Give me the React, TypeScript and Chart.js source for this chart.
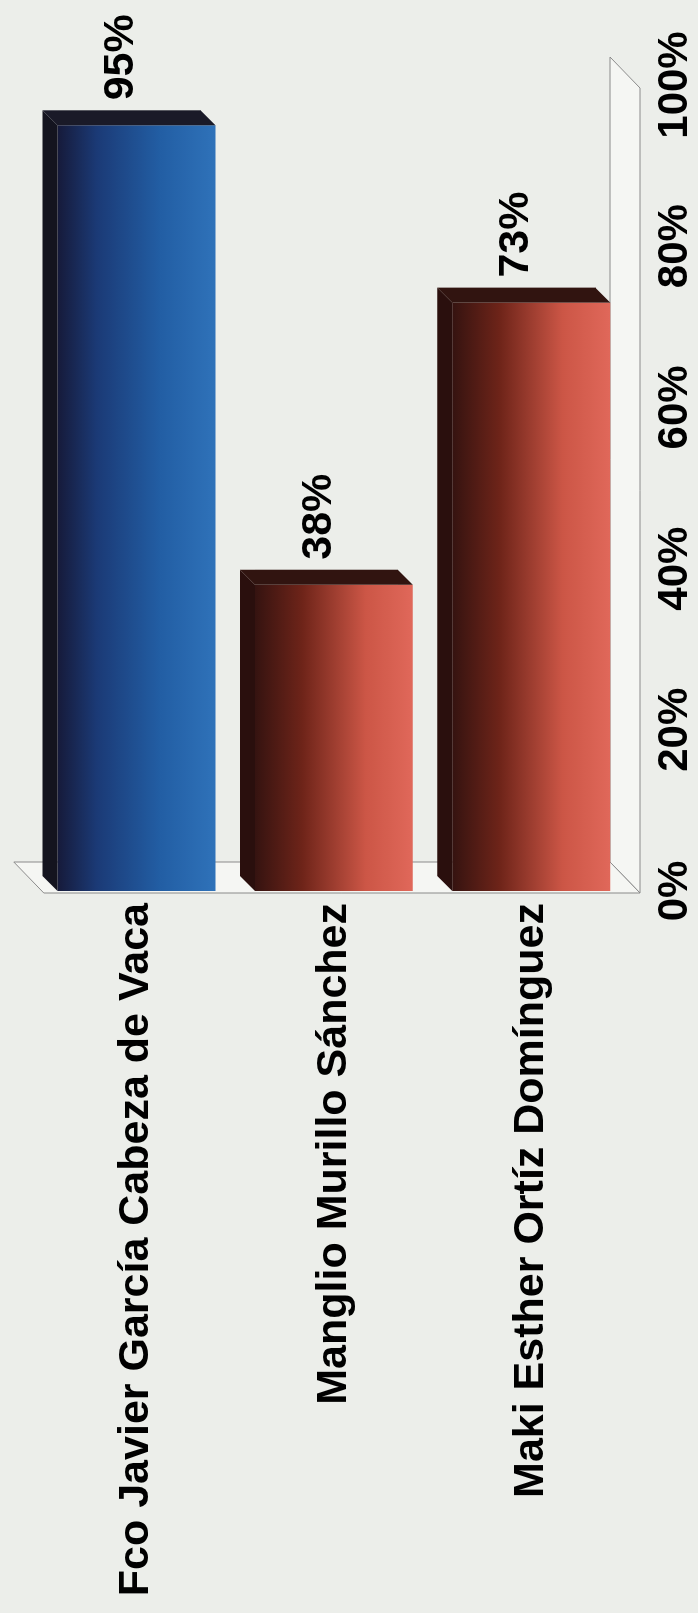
import { useEffect, useRef } from "react";
import { Chart, registerables } from "chart.js";

Chart.register(...registerables);

const categories = [
  "Fco Javier García Cabeza de Vaca",
  "Manglio Murillo Sánchez",
  "Maki Esther Ortíz Domínguez",
];
const values = [95, 38, 73];
const valueLabels = ["95%", "38%", "73%"];
const tickValues = [0, 20, 40, 60, 80, 100];

// styles (kept apart from data)
const BLUE_STOPS: [number, string][] = [
  [0, "#161a3a"],
  [0.25, "#1b3a76"],
  [0.65, "#225ea4"],
  [1, "#2f72b9"],
];
const RED_STOPS: [number, string][] = [
  [0, "#351310"],
  [0.3, "#6e2419"],
  [0.7, "#cc5646"],
  [1, "#e0685a"],
];
const barStops = [BLUE_STOPS, RED_STOPS, RED_STOPS];
const sideColors = ["#14141f", "#2a0f0d", "#2a0f0d"];
const endColors = ["#1a1a28", "#311410", "#311410"];
const FONT_FAMILY = '"Liberation Sans", Arial, Helvetica, sans-serif';

function poly(ctx: CanvasRenderingContext2D, pts: number[][], fill: boolean, stroke: boolean) {
  ctx.beginPath();
  ctx.moveTo(pts[0][0], pts[0][1]);
  for (let i = 1; i < pts.length; i++) ctx.lineTo(pts[i][0], pts[i][1]);
  ctx.closePath();
  if (fill) ctx.fill();
  if (stroke) ctx.stroke();
}

const decoPlugin = {
  id: "deco3d",
  beforeDatasetsDraw(chart: any) {
    const { ctx, chartArea: a, scales } = chart;
    const x = scales.x;
    const x0 = x.getPixelForValue(tickValues[0]);
    const x1 = x.getPixelForValue(tickValues[tickValues.length - 1]);
    ctx.save();
    ctx.fillStyle = "#f5f6f3";
    ctx.strokeStyle = "#8a8a8a";
    ctx.lineWidth = 1;
    // floor (bottom in canvas frame)
    poly(
      ctx,
      [
        [x0 - 2, a.bottom + 10],
        [x1 - 3, a.bottom + 10],
        [x1 + 28, a.bottom - 20],
        [x0 + 29, a.bottom - 20],
      ],
      true,
      true
    );
    // side wall at zero
    poly(
      ctx,
      [
        [x0 - 2, a.top + 6],
        [x0 - 2, a.bottom + 10],
        [x0 + 29, a.bottom - 20],
        [x0 + 29, a.top - 24],
      ],
      true,
      true
    );
    ctx.restore();
  },
  afterDatasetsDraw(chart: any) {
    const { ctx } = chart;
    const meta = chart.getDatasetMeta(0);
    const d = 15;
    ctx.save();
    meta.data.forEach((bar: any, i: number) => {
      const p = bar.getProps(["x", "y", "base", "height"], true);
      const top = p.y - p.height / 2;
      const bottom = p.y + p.height / 2;
      ctx.fillStyle = sideColors[i];
      poly(ctx, [[p.base, top], [p.base + d, top - d], [p.x + d, top - d], [p.x, top]], true, false);
      ctx.fillStyle = endColors[i];
      poly(ctx, [[p.x, top], [p.x + d, top - d], [p.x + d, bottom - d], [p.x, bottom]], true, false);
      ctx.fillStyle = "#000";
      ctx.font = `bold 43px ${FONT_FAMILY}`;
      ctx.textAlign = "left";
      ctx.textBaseline = "middle";
      ctx.fillText(valueLabels[i], p.x + 25, p.y - 15);
    });
    ctx.restore();
  },
};

export default function App() {
  const canvasRef = useRef<HTMLCanvasElement | null>(null);

  useEffect(() => {
    if (!canvasRef.current) return;
    const chart = new Chart(canvasRef.current, {
      type: "bar",
      data: {
        labels: categories,
        datasets: [
          {
            data: values,
            borderWidth: 0,
            barPercentage: 0.8,
            categoryPercentage: 1,
            backgroundColor: (c: any) => {
              const ch = c.chart;
              const area = ch.chartArea;
              if (c.type !== "data" || !area || !ch.scales.y) return "#888";
              const center = ch.scales.y.getPixelForValue(c.dataIndex);
              const band = (area.bottom - area.top) / categories.length;
              const t = band * 0.8;
              const g = ch.ctx.createLinearGradient(0, center - t / 2, 0, center + t / 2);
              barStops[c.dataIndex].forEach(([o, col]) => g.addColorStop(o, col));
              return g;
            },
          },
        ],
      },
      options: {
        indexAxis: "y",
        responsive: false,
        maintainAspectRatio: false,
        devicePixelRatio: 1,
        animation: false,
        layout: { padding: { top: 37, right: 85, left: 0, bottom: 0 } },
        plugins: { legend: { display: false }, tooltip: { enabled: false } },
        scales: {
          x: {
            type: "linear",
            position: "bottom",
            min: tickValues[0],
            max: tickValues[tickValues.length - 1],
            grid: { display: false, drawTicks: false },
            border: { display: false },
            afterBuildTicks: (s: any) => {
              s.ticks = tickValues.map((v) => ({ value: v }));
            },
            afterFit: (s: any) => {
              s.height = 68;
            },
            ticks: {
              autoSkip: false,
              maxRotation: 0,
              minRotation: 0,
              padding: 20,
              color: "#000",
              font: { family: FONT_FAMILY, size: 42, weight: "bold" },
              callback: (v: any) => `${v}%`,
            },
          },
          y: {
            type: "category",
            grid: { display: false, drawTicks: false },
            border: { display: false },
            afterFit: (s: any) => {
              s.width = 722;
            },
            ticks: {
              autoSkip: false,
              padding: 12,
              color: "#000",
              font: { family: FONT_FAMILY, size: 43, weight: "bold" },
            },
          },
        },
      },
      plugins: [decoPlugin],
    } as any);
    return () => chart.destroy();
  }, []);

  return (
    <div
      style={{
        position: "fixed",
        left: 0,
        top: 0,
        width: 1613,
        height: 698,
        transformOrigin: "0 0",
        transform: "translate(0px, 1613px) rotate(-90deg)",
        background: "#eceeea",
      }}
    >
      <canvas
        ref={canvasRef}
        width={1613}
        height={698}
        style={{ display: "block", width: 1613, height: 698 }}
      />
    </div>
  );
}
